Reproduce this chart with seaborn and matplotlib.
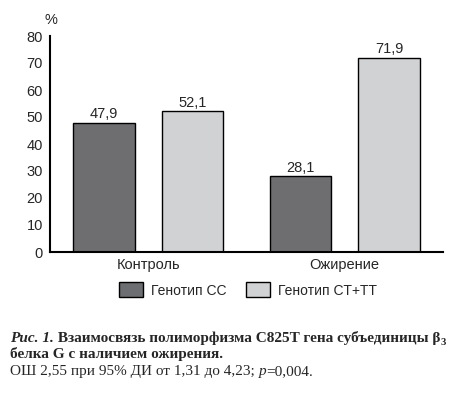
import pandas as pd
import matplotlib.pyplot as plt
import matplotlib.patches as mpatches
import seaborn as sns

groups = ['Контроль', 'Ожирение']
genotypes = ['Генотип CC', 'Генотип CT+TT']
cc_values = [47.9, 28.1]
cttt_values = [52.1, 71.9]
y_ticks = [0, 10, 20, 30, 40, 50, 60, 70, 80]

dark = '#6d6e71'
light = '#d1d2d4'

sns.set_style('white')
plt.rcParams['font.family'] = ['Liberation Sans', 'DejaVu Sans']

df = pd.DataFrame({
    'group': groups * 2,
    'genotype': [genotypes[0]] * 2 + [genotypes[1]] * 2,
    'value': cc_values + cttt_values,
})

W, H = 461, 395
fig = plt.figure(figsize=(W / 100, H / 100), dpi=100)
ax = fig.add_axes([50 / W, 1 - 252 / H, 393 / W, 216 / H])

sns.barplot(data=df, x='group', y='value', hue='genotype', order=groups,
            hue_order=genotypes, palette=[dark, light], edgecolor='black',
            linewidth=1, width=0.9, gap=0.3, ax=ax, legend=False)

for cont in ax.containers:
    ax.bar_label(cont, labels=[f'{b.get_height():.1f}'.replace('.', ',') for b in cont],
                 padding=1, fontsize=10.5)

ax.set_xlim(-0.5, 1.5)
ax.set_ylim(0, 80)
ax.set_yticks(y_ticks)
ax.tick_params(axis='y', direction='in', length=7, width=1.2, labelsize=10.5, pad=5)
ax.set_xticks([-0.5, 0.5, 1.5])
ax.set_xticklabels([])
ax.set_xticks([0, 1], minor=True)
ax.set_xticklabels(groups, minor=True)
ax.tick_params(axis='x', which='major', direction='in', length=3, width=1)
ax.tick_params(axis='x', which='minor', length=0, labelsize=10.5, pad=4)
ax.set_xlabel('')
ax.set_ylabel('')
for s in ['top', 'right']:
    ax.spines[s].set_visible(False)
for s in ['left', 'bottom']:
    ax.spines[s].set_color('black')
    ax.spines[s].set_linewidth(1.5)

fig.text(51 / W, 1 - 20 / H, '%', ha='center', va='center', fontsize=10.5)

handles = [mpatches.Patch(facecolor=dark, edgecolor='black', linewidth=1),
           mpatches.Patch(facecolor=light, edgecolor='black', linewidth=1)]
fig.legend(handles, genotypes, loc='center', bbox_to_anchor=(248 / W, 1 - 290 / H),
           ncol=2, frameon=False, fontsize=10, handlelength=1.7, handleheight=1.25,
           handletextpad=0.6, columnspacing=1.4)

# caption with mixed styles
renderer = fig.canvas.get_renderer()
serif = ['Liberation Serif', 'DejaVu Serif']


def rich_line(x, y, pieces):
    for s, kw in pieces:
        dy = kw.pop('dy', 0)
        t = fig.text(x / W, 1 - (y + dy) / H, s, va='baseline', ha='left',
                     family=serif, **kw)
        x += t.get_window_extent(renderer).width


fs = 11
rich_line(10, 342, [
    ('Рис. 1.', dict(fontsize=fs, weight='bold', style='italic')),
    (' Взаимосвязь полиморфизма C825T гена субъединицы β', dict(fontsize=fs, weight='bold')),
    ('3', dict(fontsize=fs * 0.7, weight='bold', dy=3)),
])
rich_line(10, 358, [
    ('белка G с наличием ожирения.', dict(fontsize=fs, weight='bold')),
])
rich_line(10, 375, [
    ('ОШ 2,55 при 95% ДИ от 1,31 до 4,23; ', dict(fontsize=fs)),
    ('p', dict(fontsize=fs, style='italic')),
    ('=0,004.', dict(fontsize=fs)),
])

fig.savefig('out.png', dpi=100)
